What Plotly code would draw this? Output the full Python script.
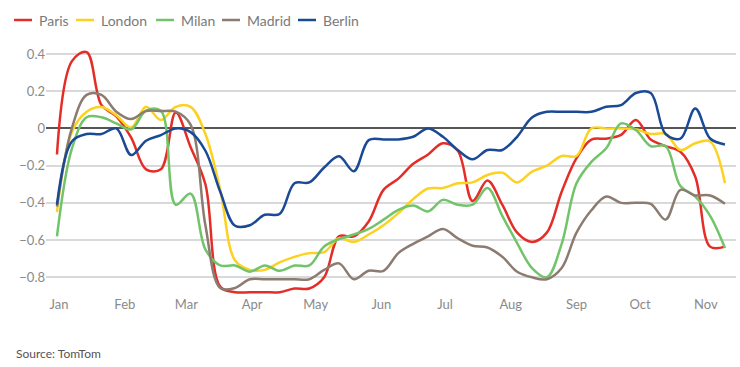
import pandas as pd
import plotly.graph_objects as go

# Weekly observations (x categories)
dates = pd.date_range("2019-12-31", periods=46, freq="7D")

paris = [-0.14, 0.36, 0.41, 0.125, 0.065, -0.05, -0.22, -0.22, 0.085, -0.1,
         -0.3, -0.85, -0.88, -0.88, -0.88, -0.88, -0.86, -0.86, -0.8, -0.58,
         -0.58, -0.5, -0.33, -0.27, -0.19, -0.14, -0.08, -0.12, -0.39, -0.28,
         -0.41, -0.56, -0.61, -0.56, -0.34, -0.16, -0.06, -0.055, -0.035, 0.045,
         -0.06, -0.095, -0.125, -0.26, -0.635, -0.635]

london = [-0.45, -0.02, 0.09, 0.115, 0.07, 0.005, 0.116, 0.045, 0.116, 0.116,
          -0.03, -0.33, -0.71, -0.76, -0.76, -0.72, -0.69, -0.67, -0.665, -0.59,
          -0.61, -0.57, -0.52, -0.455, -0.38, -0.323, -0.32, -0.295, -0.29, -0.25,
          -0.2375, -0.29, -0.232, -0.2, -0.148, -0.148, 0.0, 0.0, 0.0, -0.005,
          -0.03, -0.03, -0.116, -0.08, -0.07, -0.295]

milan = [-0.58, -0.11, 0.06, 0.06, 0.027, -0.005, 0.095, 0.095, -0.41, -0.35,
         -0.65, -0.736, -0.736, -0.77, -0.736, -0.765, -0.737, -0.736, -0.634, -0.595,
         -0.57, -0.54, -0.49, -0.4375, -0.414, -0.446, -0.384, -0.41, -0.41, -0.32,
         -0.47, -0.616, -0.75, -0.8, -0.62, -0.295, -0.18, -0.107, 0.027, -0.009,
         -0.095, -0.095, -0.31, -0.366, -0.47, -0.643]

madrid = [-0.42, 0.0, 0.18, 0.18, 0.09, 0.05, 0.093, 0.093, 0.09, 0.02,
          -0.52, -0.857, -0.857, -0.81, -0.81, -0.81, -0.81, -0.81, -0.76, -0.725,
          -0.81, -0.765, -0.765, -0.67, -0.62, -0.58, -0.54, -0.59, -0.63, -0.64,
          -0.69, -0.77, -0.8, -0.81, -0.75, -0.56, -0.44, -0.366, -0.4, -0.4,
          -0.405, -0.49, -0.33, -0.36, -0.36, -0.405]

berlin = [-0.41, -0.07, -0.03, -0.03, 0.0, -0.143, -0.066, -0.036, 0.0, -0.02,
          -0.12, -0.34, -0.523, -0.52, -0.464, -0.46, -0.295, -0.29, -0.21, -0.15,
          -0.23, -0.063, -0.059, -0.059, -0.045, 0.0, -0.045, -0.116, -0.166, -0.116,
          -0.116, -0.045, 0.059, 0.089, 0.089, 0.089, 0.089, 0.116, 0.125, 0.19,
          0.19, -0.03, -0.055, 0.107, -0.054, -0.086]

series_names = ["Paris", "London", "Milan", "Madrid", "Berlin"]
series_values = [paris, london, milan, madrid, berlin]
colors = ["#e52d27", "#fdd11f", "#72c46a", "#8c7b70", "#1a4a96"]

y_ticks = [0.4, 0.2, 0, -0.2, -0.4, -0.6, -0.8]

FONT = "Lato"
W, H = 740, 367
ML, MR, MT, MB = 46, 4, 40, 72
PW, PH = W - ML - MR, H - MT - MB

def px_x(px):
    return (px - ML) / PW

def px_y(py):
    return (H - MB - py) / PH

fig = go.Figure()
for name, vals, col in zip(series_names, series_values, colors):
    fig.add_trace(go.Scatter(
        x=dates, y=vals, name=name, mode="lines",
        line=dict(color=col, width=2.5, shape="spline", smoothing=1.0),
        showlegend=False, hoverinfo="skip"))

# manual legend (layout decoration)
legend_text_x = [37, 99, 179, 245, 321]
shapes = []
annotations = []
for name, col, tx in zip(series_names, colors, legend_text_x):
    shapes.append(dict(type="line", xref="paper", yref="paper",
                       x0=px_x(tx - 23), x1=px_x(tx - 5),
                       y0=px_y(20), y1=px_y(20),
                       line=dict(color=col, width=2.5)))
    annotations.append(dict(text=name, xref="paper", yref="paper",
                            x=px_x(tx), y=px_y(20), xanchor="left", yanchor="middle",
                            showarrow=False, font=dict(family=FONT, size=14, color="#7a7a7a")))

annotations.append(dict(text="Source: TomTom", xref="paper", yref="paper",
                        x=px_x(14), y=px_y(353), xanchor="left", yanchor="middle",
                        showarrow=False, font=dict(family=FONT, size=12, color="#555555")))

fig.update_layout(
    width=W, height=H,
    margin=dict(l=ML, r=MR, t=MT, b=MB),
    paper_bgcolor="white", plot_bgcolor="white",
    font=dict(family=FONT, size=13, color="#8a8a8a"),
    shapes=shapes, annotations=annotations,
    showlegend=False,
    xaxis=dict(type="date",
               range=["2019-12-25 20:00", "2020-11-15 05:00"],
               tick0="2020-01-01", dtick="M1", tickformat="%b",
               showgrid=False, zeroline=False, showline=False, ticks="",
               tickfont=dict(family=FONT, size=13, color="#8a8a8a")),
    yaxis=dict(range=[-0.895, 0.475], tickvals=y_ticks,
               showgrid=True, gridcolor="#d9d9d9", gridwidth=1.5,
               zeroline=True, zerolinecolor="#555555", zerolinewidth=2,
               showline=False, ticks="",
               tickfont=dict(family=FONT, size=13, color="#8a8a8a")),
)

fig.write_html("out.html",
               config={"displayModeBar": False},
               post_script="document.body.style.margin='0';document.body.style.overflow='hidden';")
